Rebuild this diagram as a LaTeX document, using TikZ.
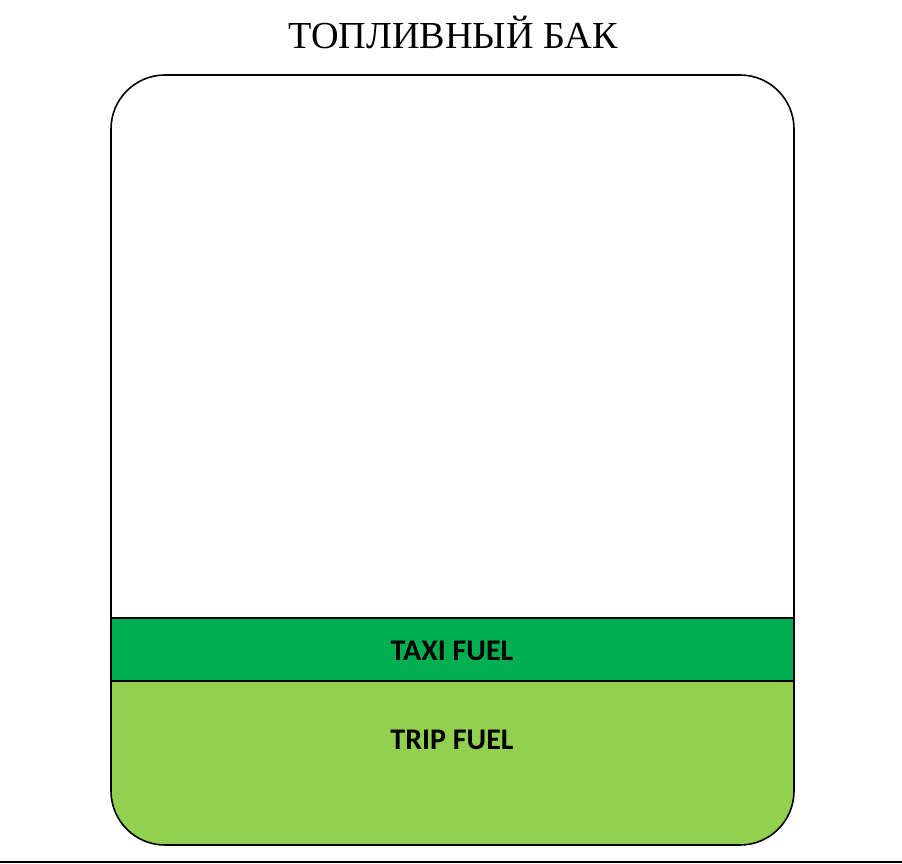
\documentclass[tikz,border=0pt]{standalone}
\usepackage{fontspec}
\setmainfont{Liberation Serif}
\newfontfamily\lblfont{Carlito}
\definecolor{taxigreen}{HTML}{00B050}
\definecolor{tripgreen}{HTML}{92D050}
\begin{document}
\begin{tikzpicture}[x=1pt,y=-1pt,
  outline/.style={line width=1.6pt, draw=black},
  fuellabel/.style={font=\lblfont\bfseries\fontsize{30}{36}\selectfont, inner sep=0pt},
  titlelabel/.style={font=\fontsize{38.2}{44}\selectfont, inner sep=0pt}]
\useasboundingbox (0,0) rectangle (902,864);
\fill[white] (0,0) rectangle (902,864);
\begin{scope}
  \clip[rounded corners=54pt] (111,75) rectangle (794,845);
  \fill[tripgreen] (100,681) rectangle (800,850);
  \fill[taxigreen] (100,618) rectangle (800,681);
\end{scope}
\draw[outline, rounded corners=54pt] (111,75) rectangle (794,845);
\draw[outline] (111,618) -- (794,618);
\draw[outline] (111,681) -- (794,681);
\draw[line width=1.6pt] (0,862) -- (902,862);
\node[titlelabel] (title) at (453,32) {ТОПЛИВНЫЙ БАК};
\node[fuellabel] (taxi) at (452,651) {TAXI FUEL};
\node[fuellabel] (trip) at (452,740) {TRIP FUEL};
\end{tikzpicture}
\end{document}
